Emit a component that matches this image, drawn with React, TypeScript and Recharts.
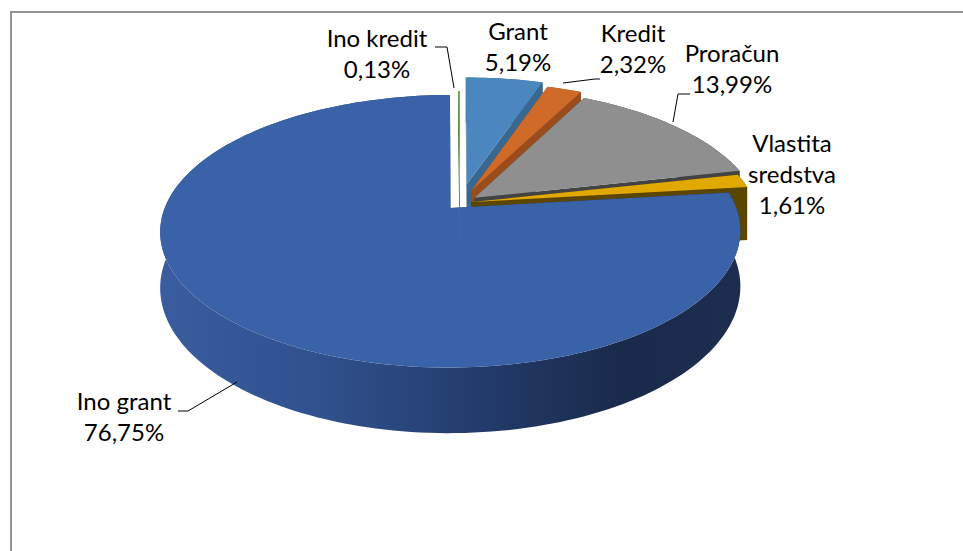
import { PieChart, Pie } from 'recharts';

// izvori financiranja, udjeli u %
const categories = ['Grant', 'Kredit', 'Proračun', 'Vlastita sredstva', 'Ino grant', 'Ino kredit'];
const shares = [5.19, 2.32, 13.99, 1.61, 76.75, 0.13];
const labelText = [['Grant'], ['Kredit'], ['Proračun'], ['Vlastita', 'sredstva'], ['Ino grant'], ['Ino kredit']];

const data = categories.map((name, i) => ({ name, value: shares[i] }));

// styling
const topColors = ['#4b87be', '#d06a28', '#8f8f8f', '#e1a800', '#3a62a8', '#72ad4f'];
const sideColors = ['#386790', '#9a4c1c', '#434343', '#5a4600', 'url(#inoGrantSide)', '#4f7f38'];
const explode = [0.15, 0.11, 0.065, 0.04, 0.05, 0];

// label placement (centre x, first baseline y, optional leader polyline)
const labelLayout: { x: number; y: number; leader?: number[][] }[] = [
  { x: 518, y: 40 },
  { x: 633, y: 42, leader: [[563, 83], [595, 79], [600, 79]] },
  { x: 732, y: 62, leader: [[673, 122], [678, 94], [690, 94]] },
  { x: 792, y: 152 },
  { x: 124, y: 410, leader: [[178, 411], [188, 411], [237, 382]] },
  { x: 377, y: 47, leader: [[435, 47], [447, 47], [454, 88]] },
];

const PERSP = 0.17;
const SQUASH = 0.46;
const DEPTH = 54;
const FONT = 'Lato, "Noto Sans", sans-serif';

const fmt = (v: number) => v.toFixed(2).replace('.', ',') + '%';

function Slice3D(props: any) {
  const { cx, cy, outerRadius, startAngle, endAngle } = props;
  const name = props.name ?? props.payload?.name;
  const i = categories.indexOf(name);
  const a1 = 90 - startAngle;
  const a2 = 90 - endAngle;
  const mid = ((a1 + a2) / 2) * Math.PI / 180;
  const e = explode[i] || 0;
  const sx = e * Math.sin(mid);
  const sy = e * Math.cos(mid);

  const proj = (deg: number, r: number, z: number) => {
    const t = (deg * Math.PI) / 180;
    const X = r * Math.sin(t) + sx;
    const Y = r * Math.cos(t) + sy;
    const w = 1 + PERSP * Y;
    return [cx + (outerRadius * X) / w, cy - (outerRadius * SQUASH * Y) / w + (z * DEPTH) / w];
  };

  const steps = Math.max(2, Math.ceil((a2 - a1) / 1.5));
  const arc = (z: number) => {
    const pts: number[][] = [];
    for (let k = 0; k <= steps; k++) pts.push(proj(a1 + ((a2 - a1) * k) / steps, 1, z));
    return pts;
  };
  const toPath = (pts: number[][]) =>
    'M' + pts.map((p) => p[0].toFixed(2) + ',' + p[1].toFixed(2)).join('L') + 'Z';

  const topArc = arc(0);
  const botArc = arc(1);
  const tipT = proj(0, 0, 0);
  const tipB = proj(0, 0, 1);

  const outer = toPath([...topArc, ...botArc.slice().reverse()]);
  const wallStart = toPath([tipT, topArc[0], botArc[0], tipB]);
  const wallEnd = toPath([tipT, topArc[steps], botArc[steps], tipB]);
  const top = toPath([tipT, ...topArc]);
  const side = sideColors[i];

  return (
    <g>
      {i === 4 && (
        <defs>
          <linearGradient id="inoGrantSide" gradientUnits="userSpaceOnUse" x1={160} y1={0} x2={735} y2={0}>
            <stop offset="0" stopColor="#3a5d9f" />
            <stop offset="0.3" stopColor="#2f4f8c" />
            <stop offset="0.55" stopColor="#233c6c" />
            <stop offset="0.8" stopColor="#1a2a4b" />
            <stop offset="1" stopColor="#1c2d50" />
          </linearGradient>
        </defs>
      )}
      <path d={outer} fill={side} />
      <path d={wallStart} fill={side} />
      <path d={wallEnd} fill={side} />
      <path d={top} fill={topColors[i]} />
    </g>
  );
}

function renderLabel(props: any) {
  const name = props.name ?? props.payload?.name;
  const i = categories.indexOf(name);
  const pos = labelLayout[i];
  const lines = [...labelText[i], fmt(shares[i])];
  return (
    <g key={'lbl-' + i}>
      {pos.leader && (
        <polyline
          points={pos.leader.map((p) => p.join(',')).join(' ')}
          fill="none"
          stroke="#000"
          strokeWidth={1}
        />
      )}
      <text x={pos.x} y={pos.y} textAnchor="middle" fontFamily={FONT} fontSize={24} fill="#000">
        {lines.map((t, k) => (
          <tspan key={k} x={pos.x} dy={k === 0 ? 0 : 31}>
            {t}
          </tspan>
        ))}
      </text>
    </g>
  );
}

export default function App() {
  return (
    <div style={{ position: 'absolute', left: 0, top: 0, width: 963, height: 551, background: '#fff', overflow: 'hidden' }}>
      <div
        style={{
          position: 'absolute',
          left: 10,
          top: 11,
          width: 1000,
          height: 600,
          borderLeft: '2px solid #939393',
          borderTop: '2px solid #939393',
        }}
      />
      <div style={{ position: 'absolute', left: 0, top: 0 }}>
        <PieChart width={963} height={551}>
          <Pie
            data={data}
            dataKey="value"
            nameKey="name"
            cx={455}
            cy={198}
            outerRadius={284}
            startAngle={90}
            endAngle={-270}
            stroke="none"
            isAnimationActive={false}
            shape={Slice3D}
            activeShape={Slice3D}
            inactiveShape={Slice3D}
            label={renderLabel}
            labelLine={false}
          />
        </PieChart>
      </div>
    </div>
  );
}
